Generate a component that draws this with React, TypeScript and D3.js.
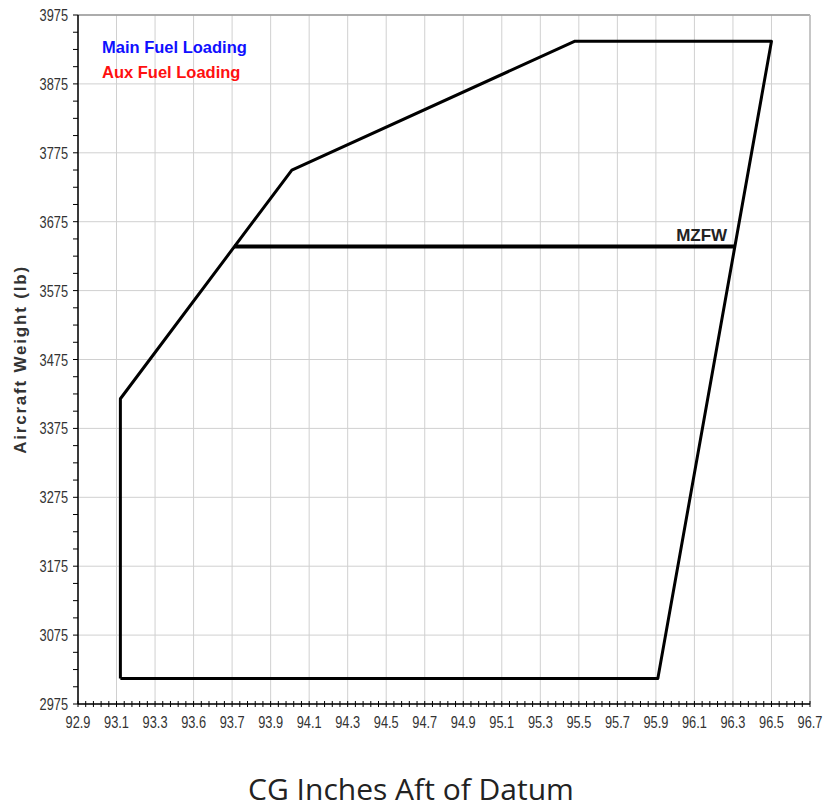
import React from "react";
import * as d3 from "d3";

const width = 825;
const height = 808;
const margin = { top: 15, right: 15, bottom: 104, left: 78 };

// CG envelope (inches aft of datum, lb)
const envelopeCg = [93.12, 93.12, 94.01, 95.48, 96.5, 95.91, 93.12];
const envelopeWt = [3012, 3418, 3750, 3937, 3937, 3012, 3012];

// max zero fuel weight line
const mzfwCg = [93.71, 96.31];
const mzfwWt = [3639, 3639];

const xTickValues = [92.9, 93.1, 93.3, 93.5, 93.7, 93.9, 94.1, 94.3, 94.5, 94.7, 94.9, 95.1, 95.3, 95.5, 95.7, 95.9, 96.1, 96.3, 96.5, 96.7];
const xTickLabels = ["92.9", "93.1", "93.3", "93.6", "93.7", "93.9", "94.1", "94.3", "94.5", "94.7", "94.9", "95.1", "95.3", "95.5", "95.7", "95.9", "96.1", "96.3", "96.5", "96.7"];
const yTickValues = [2975, 3075, 3175, 3275, 3375, 3475, 3575, 3675, 3775, 3875, 3975];

const legendLabels = ["Main Fuel Loading", "Aux Fuel Loading"];
const legendColors = ["#1010ff", "#ff1010"];

const sans = "'Liberation Sans', Arial, sans-serif";

export default function App() {
  const x = d3.scaleLinear().domain([92.9, 96.7]).range([margin.left, width - margin.right]);
  const y = d3.scaleLinear().domain([2975, 3975]).range([height - margin.bottom, margin.top]);

  const line = d3.line<[number, number]>().x(d => x(d[0])).y(d => y(d[1]));
  const envelope = envelopeCg.map((c, i) => [c, envelopeWt[i]] as [number, number]);
  const mzfw = mzfwCg.map((c, i) => [c, mzfwWt[i]] as [number, number]);

  const x0 = x.range()[0], x1 = x.range()[1];
  const y0 = y.range()[0], y1 = y.range()[1];

  // minor ticks
  const xMinor = d3.range(0, 96).map(i => 92.9 + i * 0.04);
  const yMinor = d3.range(0, 41).map(i => 2975 + i * 25);

  return (
    <div style={{ position: "absolute", left: 0, top: 0 }}>
      <svg width={width} height={height} style={{ display: "block", background: "#fff" }}>
        {/* grid */}
        <g stroke="#d0d0d0" strokeWidth={1}>
          {xTickValues.map((v, i) => (
            <line key={"gx" + i} x1={x(v)} x2={x(v)} y1={y1} y2={y0} />
          ))}
          {yTickValues.map((v, i) => (
            <line key={"gy" + i} x1={x0} x2={x1} y1={y(v)} y2={y(v)} />
          ))}
        </g>
        {/* frame top / right */}
        <line x1={x0} x2={x1} y1={y1} y2={y1} stroke="#999" strokeWidth={1.5} />
        <line x1={x1} x2={x1} y1={y1} y2={y0} stroke="#bbb" strokeWidth={1.5} />

        {/* envelope */}
        <path d={line(envelope) || ""} fill="none" stroke="#000" strokeWidth={3} strokeLinejoin="round" />
        <path d={line(mzfw) || ""} fill="none" stroke="#000" strokeWidth={4} />
        <text x={x(96.27)} y={y(3639) - 6} textAnchor="end" fontFamily={sans} fontWeight="bold" fontSize={17} fill="#222">MZFW</text>

        {/* axes */}
        <line x1={x0} x2={x0} y1={y1} y2={y0} stroke="#000" strokeWidth={1.5} />
        <line x1={x0} x2={x1} y1={y0} y2={y0} stroke="#000" strokeWidth={1.5} />
        <g stroke="#000" strokeWidth={1}>
          {xMinor.map((v, i) => (
            <line key={"xm" + i} x1={x(v)} x2={x(v)} y1={y0 - 3} y2={y0 + 3} />
          ))}
          {yMinor.map((v, i) => (
            <line key={"ym" + i} x1={x0 - 5} x2={x0} y1={y(v)} y2={y(v)} />
          ))}
        </g>
        <g fontFamily={sans} fontSize={16} fill="#333">
          {xTickValues.map((v, i) => (
            <text key={"xl" + i} transform={`translate(${x(v)}, ${y0 + 24}) scale(0.8, 1)`} textAnchor="middle">{xTickLabels[i]}</text>
          ))}
          {yTickValues.map((v, i) => (
            <text key={"yl" + i} transform={`translate(${x0 - 10}, ${y(v) + 6}) scale(0.8, 1)`} textAnchor="end">{v}</text>
          ))}
        </g>

        {/* legend text */}
        {legendLabels.map((l, i) => (
          <text key={l} x={102} y={53 + i * 25} fontFamily={sans} fontWeight="bold" fontSize={16.5} fill={legendColors[i]}>{l}</text>
        ))}

        {/* axis titles */}
        <text transform={`translate(26, ${(y0 + y1) / 2}) rotate(-90)`} textAnchor="middle" fontFamily={sans} fontWeight="bold" fontSize={17} letterSpacing={1.8} fill="#333">Aircraft Weight (lb)</text>
        <text x={411} y={800} textAnchor="middle" fontFamily="'Open Sans', 'Noto Sans', sans-serif" fontSize={30} fill="#222">CG Inches Aft of Datum</text>
      </svg>
    </div>
  );
}
